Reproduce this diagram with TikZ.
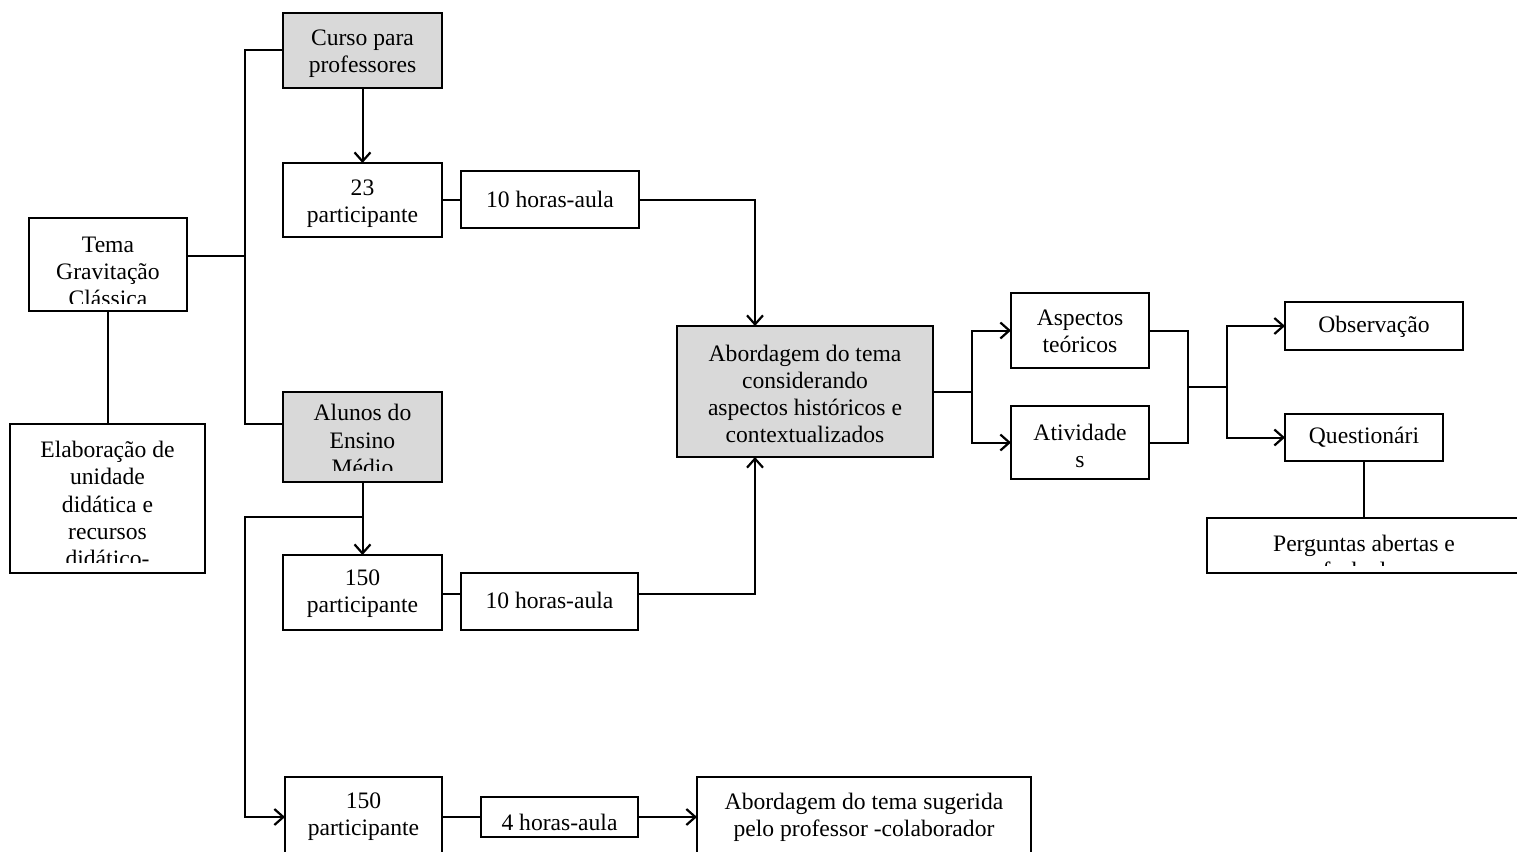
\documentclass[tikz,border=0pt]{standalone}
\usepackage{fontspec}
\setmainfont{Liberation Serif}
\usetikzlibrary{arrows.meta,fit}
\definecolor{boxgray}{HTML}{D9D9D9}
\begin{document}
\begin{tikzpicture}[x=0.5pt,y=-0.5pt,
  font=\fontsize{11.8}{13.6}\selectfont,
  box/.style={draw=black,line width=1pt,inner sep=0pt,outer sep=0pt},
  graybox/.style={box,fill=boxgray},
  txt/.style={align=center,inner sep=0pt},
  conn/.style={line width=1pt},
  arr/.style={conn,-{Straight Barb[length=4.5pt,width=8pt,line width=1.1pt]}}]
\useasboundingbox (0,0) rectangle (1517,852);
\clip (0,0) rectangle (1517,852);

% boxes
\node[box, fit={(29,218) (187,311)}] (tema) {};
\begin{scope}\clip (29,218) rectangle (187,303);
\node[txt] (temat) at (108,272) {Tema\\Gravitação\\Clássica};
\end{scope}

\node[box, fit={(10,424) (205,573)}] (elab) {};
\begin{scope}\clip (10,424) rectangle (205,562);
\node[txt] (elabt) at (107.5,504) {Elaboração de\\unidade\\didática e\\recursos\\didático-};
\end{scope}

\node[graybox, fit={(283,13) (442,88)}] (curso) {};
\node[txt] (cursot) at (362.5,54) {Curso para\\professores};

\node[box, fit={(283,163) (442,237)}] (p23) {};
\node[txt] (p23t) at (362.5,203.5) {23\\participante};

\node[box, fit={(461,171) (639,228)}] (h10a) {};
\node[txt] (h10at) at (550,199) {10 horas-aula};

\node[graybox, fit={(283,392) (442,482)}] (alunos) {};
\begin{scope}\clip (283,392) rectangle (442,470);
\node[txt] (alunost) at (362.5,440) {Alunos do\\Ensino\\Médio};
\end{scope}

\node[box, fit={(283,555) (442,630)}] (p150) {};
\node[txt] (p150t) at (362.5,594) {150\\participante};

\node[box, fit={(461,573) (638,630)}] (h10b) {};
\node[txt] (h10bt) at (549.5,600) {10 horas-aula};

\node[graybox, fit={(677,326) (933,457)}] (abord) {};
\node[txt] (abordt) at (805,394) {Abordagem do tema\\considerando\\aspectos históricos e\\contextualizados};

\node[box, fit={(1011,293) (1149,368)}] (asp) {};
\node[txt] (aspt) at (1080,331.5) {Aspectos\\teóricos};

\node[box, fit={(1011,406) (1149,479)}] (ativ) {};
\node[txt] (ativt) at (1080,446) {Atividade\\s};

\node[box, fit={(1285,302) (1463,350)}] (obs) {};
\node[txt] (obst) at (1374,327) {Observação};

\node[box, fit={(1285,414) (1443,461)}] (quest) {};
\node[txt] (questt) at (1364,437.5) {Questionári};

\node[box, fit={(1207,518) (1521,573)}] (perg) {};
\begin{scope}\clip (1207,518) rectangle (1521,565);
\node[txt] (pergt) at (1364,557) {Perguntas abertas e\\fechadas};
\end{scope}

\node[box, fit={(285,777) (442,857)}] (p150c) {};
\node[txt] (p150ct) at (363.5,817) {150\\participante};

\node[box, fit={(481,797) (638,837)}] (h4) {};
\node[txt] (h4t) at (559.5,822) {4 horas-aula};

\node[box, fit={(697,777) (1031,857)}] (sug) {};
\node[txt] (sugt) at (864,817) {Abordagem do tema sugerida\\pelo professor -colaborador};

% junction coordinates
\coordinate (j1) at (245,256);
\coordinate (jtop) at (245,50);
\coordinate (jbot) at (245,424);
\coordinate (vx) at (755,0);
\coordinate (jb) at (363,517);
\coordinate (jl) at (245,517);
\coordinate (jll) at (245,817);
\coordinate (j2) at (972,391.5);
\coordinate (j3) at (1188,387);
\coordinate (j4) at (1227,387);

% connectors
\draw[conn] (tema.east |- j1) -- (j1);
\draw[conn] (curso.west |- jtop) -- (jtop) -- (jbot) -- (alunos.west |- jbot);
\draw[conn] (tema.south) -- (tema.south |- elab.north);
\draw[arr] (curso.south) -- (p23.north);
\draw[conn] (p23.east) -- (p23.east -| h10a.west);
\draw[arr] (h10a.east) -| (vx |- abord.north);
\draw[arr] (alunos.south) -- (p150.north);
\draw[arr] (jb) -- (jl) -- (jll) -- (p150c.west);
\draw[conn] (p150.east |- h10b.west) ++(0,-8) coordinate (t1) -- (t1 -| h10b.west);
\draw[arr] (h10b.east |- t1) -| (vx |- abord.south);
\draw[conn] (p150c.east) -- (h4.west);
\draw[arr] (h4.east) -- (sug.west);
\draw[conn] (abord.east) -- (j2);
\draw[arr] (j2) |- (asp.west);
\draw[arr] (j2) |- (ativ.west);
\draw[conn] (asp.east) -| (j3);
\draw[conn] (ativ.east) -| (j3);
\draw[conn] (j3) -- (j4);
\draw[arr] (j4) |- (obs.west);
\draw[arr] (j4) |- (quest.west);
\draw[conn] (quest.south) -- (quest.south |- perg.north);
\end{tikzpicture}
\end{document}
